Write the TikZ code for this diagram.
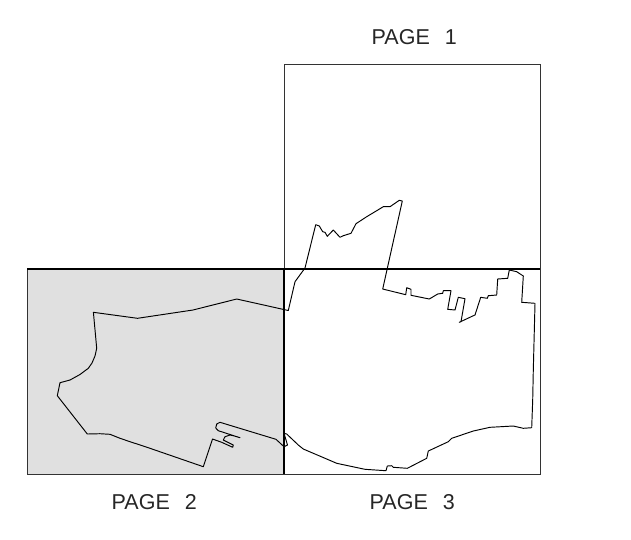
\documentclass[tikz,border=0pt]{standalone}
\usepackage{fontspec}
\setmainfont{Liberation Sans}
\tikzset{
  pagebox/.style={draw=black!80,line width=1pt,minimum width=256pt,minimum height=205pt,inner sep=0pt,outer sep=0pt,anchor=north west},
  pagelabel/.style={font=\fontsize{21.5}{24}\selectfont,inner sep=0pt,anchor=west,text=black!85},
  coast/.style={draw=black,line width=0.95pt,line join=round},
  divider/.style={draw=black,line width=1.3pt}
}
\newcommand{\pg}[1]{PAGE\hspace{15pt}#1}
\begin{document}
\begin{tikzpicture}[x=1pt,y=-1pt]
\useasboundingbox (0,0) rectangle (631,539);
\node[pagebox] (p1) at (284,64) {};
\node[pagebox,fill=black!12,minimum width=257pt] (p2) at (27,269) {};
\node[pagebox] (p3) at (284,269) {};
\draw[divider] (p2.north west) -- (p3.north east);
\draw[divider] (p3.north west) -- (p3.south west);
\node[pagelabel] (l1) at (371.5,37) {\pg{1}};
\node[pagelabel] (l2) at (111.5,502.5) {\pg{2}};
\node[pagelabel] (l3) at (369.5,502.5) {\pg{3}};
% coast, west and north
\draw[coast] (284,446.7) -- (276,439.3) -- (220,422.3) -- (216.7,424) -- (215.7,428) -- (218.3,430.7)
 -- (240,437.7) -- (233.3,435.7) -- (230,435) -- (225,436.7) -- (223.3,440) -- (233.3,445) -- (232.7,447.3)
 -- (221.7,442.3) -- (212.5,439) -- (203.3,466.7) -- (150,448.3) -- (128,441) -- (120,438.3) -- (110,434.3) -- (100,433.7) -- (87.3,434)
 -- (57.3,395.7) -- (60,382.7) -- (70,380) -- (80,374.5) -- (88.3,368.3) -- (92,363) -- (95,356) -- (96.7,348.3) -- (93.4,312.3)
 -- (137.5,318.3) -- (193,310) -- (236.7,299) -- (288.3,310.5) -- (295,281.7) -- (305,268) -- (315.7,224.7)
 -- (319.3,226) -- (322.7,231.7) -- (325,232.3) -- (327.3,236.3) -- (333.3,230) -- (340,237.3) -- (343.3,235.7)
 -- (351,233.3) -- (356,223.7) -- (366.7,216.7) -- (383.3,206.7) -- (390,206.7) -- (399.3,200.3) -- (402.3,201)
 -- (382.7,289) -- (405.7,294.7) -- (406.7,287.7) -- (411,289.3) -- (411,295.3) -- (429.3,299) -- (437.7,294)
 -- (442.7,293.3) -- (443.3,290.7) -- (451,290.7) -- (447.7,309.3) -- (455,310) -- (458.3,297.3) -- (465,298.7)
 -- (461,321.7) -- (459.3,322.3) -- (472.7,316) -- (475,315) -- (480.7,297.3) -- (487.3,298.3) -- (488.3,295.7)
 -- (496.7,295) -- (497.7,279) -- (507.7,278.3) -- (509.3,270) -- (516.7,271.7) -- (523.3,276) -- (521.7,302.3)
 -- (535,303.3) -- (533.3,370) -- (532.7,400) -- (531.7,427.7) -- (523.3,428.3) -- (513.3,426) -- (490,427.3)
 -- (473.3,431) -- (451.7,438.3) -- (448.3,441.7) -- (428.3,451) -- (426.7,458.3) -- (407.3,468.3) -- (393.3,467.3)
 -- (391.7,465.7) -- (387.3,466) -- (386,470.7) -- (365,469.3) -- (336.7,463.3) -- (303.3,449) -- (298.3,445)
 -- (286.7,434) -- (284,433.3) -- (287.5,445) -- cycle;
\end{tikzpicture}
\end{document}
